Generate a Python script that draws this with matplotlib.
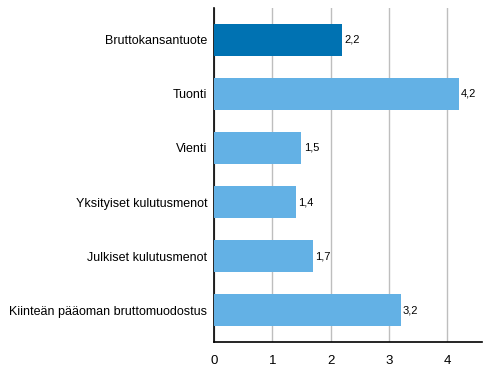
import matplotlib
matplotlib.use("Agg")
from matplotlib import pyplot as plt

plt.rcParams['font.family'] = ['Liberation Sans', 'DejaVu Sans']

categories = ["Bruttokansantuote", "Tuonti", "Vienti", "Yksityiset kulutusmenot",
              "Julkiset kulutusmenot", "Kiinteän pääoman bruttomuodostus"]
values = [2.2, 4.2, 1.5, 1.4, 1.7, 3.2]
labels = ["2,2", "4,2", "1,5", "1,4", "1,7", "3,2"]
colors = ["#0072B2", "#63B1E5", "#63B1E5", "#63B1E5", "#63B1E5", "#63B1E5"]

fig = plt.figure(figsize=(4.91, 3.78), dpi=100)
ax = fig.add_axes([0.436, 0.095, 0.546, 0.884])

pos = list(range(len(categories)))
ax.barh(pos, values, height=0.6, color=colors, zorder=3)
for p, v, t in zip(pos, values, labels):
    ax.text(v + 0.04, p, t, va='center', ha='left', fontsize=8, color='black')

ax.set_yticks(pos)
ax.set_yticklabels(categories, fontsize=9)
ax.set_ylim(5.59, -0.59)
ax.set_xlim(0, 4.6)
ax.set_xticks([0, 1, 2, 3, 4])
ax.tick_params(axis='x', labelsize=9.5, length=0, pad=9)
ax.tick_params(axis='y', length=0, pad=5)
ax.grid(axis='x', color='#BEBEBE', linewidth=1, zorder=0)
for s in ['top', 'right']:
    ax.spines[s].set_visible(False)
ax.spines['left'].set_linewidth(1.2)
ax.spines['bottom'].set_linewidth(1.2)

fig.savefig("out.png", dpi=100)
